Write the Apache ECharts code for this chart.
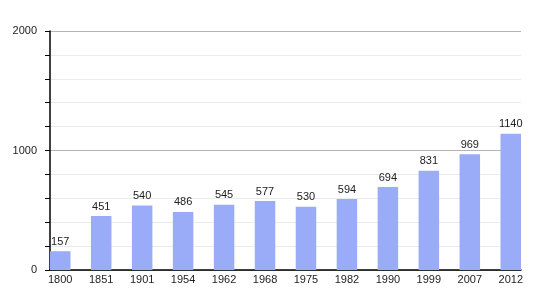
<!DOCTYPE html>
<html>
<head>
<meta charset="utf-8">
<script src="https://cdn.jsdelivr.net/npm/echarts@6/dist/echarts.min.js"></script>
<style>html,body{margin:0;padding:0;background:#fff}#c{width:550px;height:300px}</style>
</head>
<body>
<div id="c"></div>
<script>
const categories = ['1800','1851','1901','1954','1962','1968','1975','1982','1990','1999','2007','2012'];
const population = [157, 451, 540, 486, 545, 577, 530, 594, 694, 831, 969, 1140];
const yTicks = [0, 1000, 2000];

const font = 'Liberation Sans, Arial, sans-serif';
const chart = echarts.init(document.getElementById('c'), null, {renderer: 'canvas'});
chart.setOption({
  animation: false,
  backgroundColor: '#fff',
  grid: {left: 50, right: 29, top: 31, bottom: 30, containLabel: false},
  xAxis: {
    type: 'value',
    min: -0.25,
    max: categories.length - 0.75,
    axisLine: {show: true, onZero: false, lineStyle: {color: '#000', width: 1.5}},
    axisTick: {show: false},
    splitLine: {show: false},
    axisLabel: {
      customValues: categories.map((c, i) => i),
      formatter: v => categories[Math.round(v)],
      color: '#222', fontFamily: font, fontSize: 11, margin: 4
    }
  },
  yAxis: {
    type: 'value',
    min: yTicks[0],
    max: yTicks[yTicks.length - 1],
    interval: 1000,
    axisLine: {show: true, onZero: false, lineStyle: {color: '#000', width: 1.5}},
    axisTick: {show: true, length: 5, lineStyle: {color: '#000'}},
    minorTick: {show: true, splitNumber: 5, length: 5, lineStyle: {color: '#000'}},
    splitLine: {show: true, lineStyle: {color: '#b4b4b4', width: 1}},
    minorSplitLine: {show: true, lineStyle: {color: '#ebebeb', width: 1}},
    axisLabel: {color: '#222', fontFamily: font, fontSize: 11, margin: 13, formatter: v => String(v)}
  },
  series: [{
    type: 'bar',
    data: population.map((v, i) => [i, v]),
    barWidth: 20.5,
    itemStyle: {color: '#9aabf8'},
    label: {show: true, position: 'top', distance: 4, color: '#222', fontFamily: font, fontSize: 11,
      formatter: p => p.value[1]}
  }]
});
</script>
</body>
</html>
